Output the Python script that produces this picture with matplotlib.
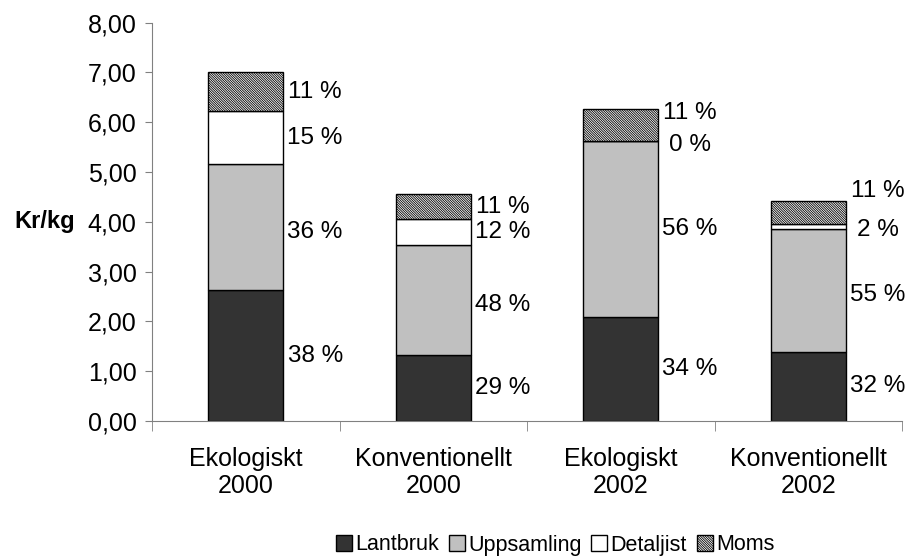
import matplotlib
matplotlib.use("Agg")
import matplotlib.pyplot as plt
import numpy as np
from matplotlib.ticker import FuncFormatter, FixedLocator

plt.rcParams["font.family"] = ["Liberation Sans", "DejaVu Sans"]
plt.rcParams["hatch.linewidth"] = 0.6
plt.rcParams["hatch.color"] = "#333333"

# data (kr/kg, stacked segment sizes)
categories = ["Ekologiskt\n2000", "Konventionellt\n2000", "Ekologiskt\n2002", "Konventionellt\n2002"]
lantbruk = [2.63, 1.33, 2.09, 1.39]
uppsamling = [2.53, 2.20, 3.53, 2.47]
detaljist = [1.06, 0.52, 0.00, 0.10]
moms = [0.79, 0.51, 0.64, 0.46]

pct_lantbruk = [38, 29, 34, 32]
pct_uppsamling = [36, 48, 56, 55]
pct_detaljist = [15, 12, 0, 2]
pct_moms = [11, 11, 11, 11]

series_names = ["Lantbruk", "Uppsamling", "Detaljist", "Moms"]

fig = plt.figure(figsize=(9.07, 5.58), dpi=100)
ax = fig.add_axes([152 / 907, 1 - 421 / 558, 750 / 907, (421 - 22.7) / 558])

x = np.arange(len(categories))
width = 0.4
segments = [lantbruk, uppsamling, detaljist, moms]
pcts = [pct_lantbruk, pct_uppsamling, pct_detaljist, pct_moms]
styles = [
    dict(color="#333333"),
    dict(color="#c0c0c0"),
    dict(color="white"),
    dict(color="white", hatch="\\" * 14),
]
# label nudges for crowded segments (data units)
nudge = {(2, 3): 0.24, (2, 2): -0.08, (3, 3): 0.42, (3, 2): -0.08,
         (0, 1): -0.1, (1, 1): -0.1, (3, 1): -0.1}

bottom = np.zeros(len(categories))
for s, (vals, name, st) in enumerate(zip(segments, series_names, styles)):
    vals = np.array(vals)
    ax.bar(x, vals, width, bottom=bottom, edgecolor="black", linewidth=1.0,
           label=name, **st)
    for i in range(len(categories)):
        ymid = bottom[i] + vals[i] / 2 + nudge.get((i, s), 0)
        ax.text(x[i] + width / 2 + 0.17, ymid, f"{pcts[s][i]} %",
                ha="center", va="center", fontsize=17.5)
    bottom += vals

ax.set_xlim(-0.5, 3.5)
ax.set_ylim(0, 8)
ax.set_yticks(np.arange(0, 9, 1))
ax.yaxis.set_major_formatter(FuncFormatter(lambda v, p: f"{v:.2f}".replace(".", ",")))
ax.set_xticks(x)
ax.set_xticklabels(categories, fontsize=18, linespacing=1.15)
ax.xaxis.set_minor_locator(FixedLocator([-0.5, 0.5, 1.5, 2.5, 3.5]))
ax.tick_params(axis="x", which="major", length=0, pad=19)
ax.tick_params(axis="x", which="minor", length=7, color="#808080", direction="out")
ax.tick_params(axis="y", labelsize=18, length=5, color="#808080", pad=6)

for side in ["top", "right"]:
    ax.spines[side].set_visible(False)
for side in ["left", "bottom"]:
    ax.spines[side].set_color("#808080")

ax.set_ylabel("Kr/kg", rotation=0, fontsize=17, fontweight="bold", va="center", ha="right")
ax.yaxis.set_label_coords(-0.102, 0.5)

fig.legend(loc="center", bbox_to_anchor=(0.612, 1 - 545 / 558), ncol=4, frameon=False,
           fontsize=15.5, handlelength=0.75, handleheight=0.75, handletextpad=0.15,
           columnspacing=0.45, borderaxespad=0)

fig.savefig("out.png", dpi=100)
